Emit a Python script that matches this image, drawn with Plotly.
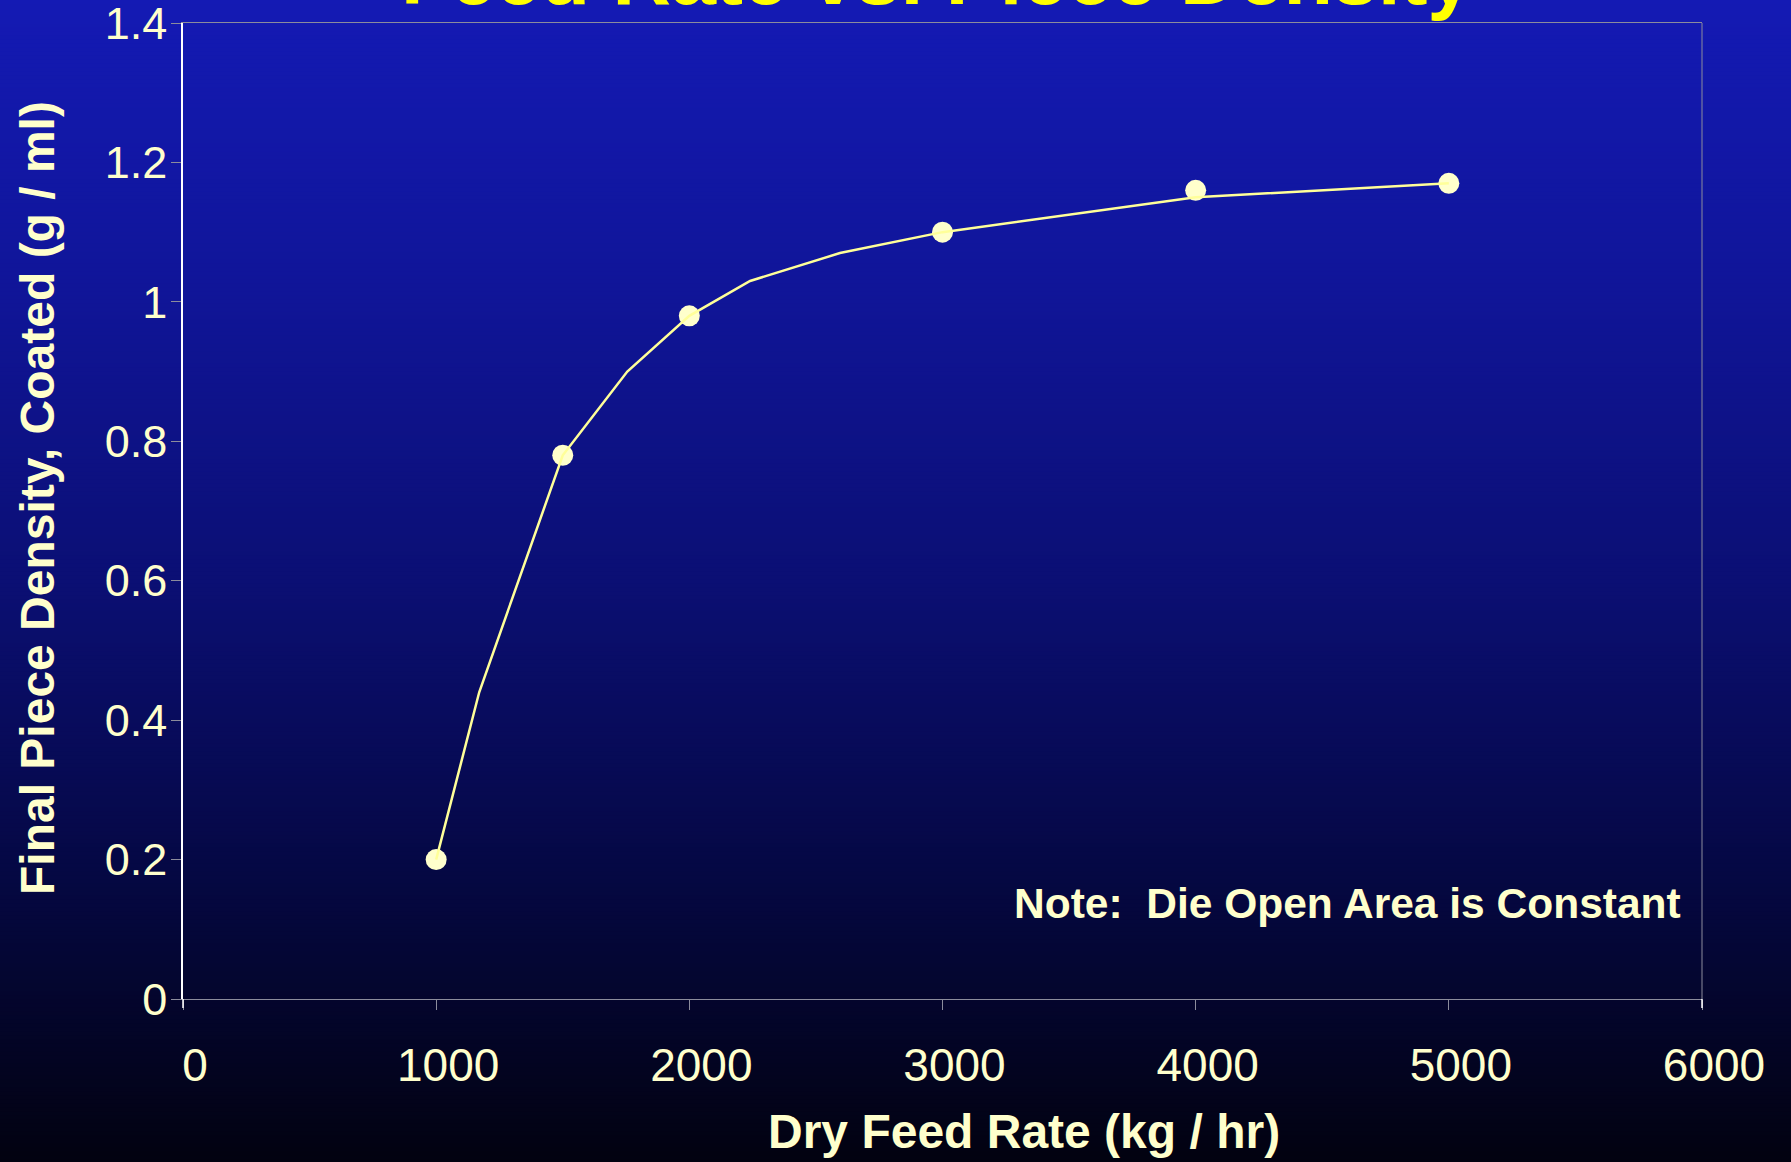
import plotly.graph_objects as go

# ---- data ----
feed_rate = [1000, 1500, 2000, 3000, 4000, 5000]
density = [0.20, 0.78, 0.98, 1.10, 1.16, 1.17]

curve_x = [1000, 1170, 1500, 1755, 2000, 2240, 2595, 3000, 4000, 5000]
curve_y = [0.20, 0.44, 0.78, 0.90, 0.98, 1.03, 1.07, 1.10, 1.15, 1.17]

x_ticks = [0, 1000, 2000, 3000, 4000, 5000, 6000]
y_ticks = [0, 0.2, 0.4, 0.6, 0.8, 1, 1.2, 1.4]
y_tick_text = ["0", "0.2", "0.4", "0.6", "0.8", "1", "1.2", "1.4"]

title_text = "Feed Rate vs. Piece Density"
x_title = "Dry Feed Rate (kg / hr)"
y_title = "Final Piece Density, Coated (g / ml)"
note_text = "Note:\u00a0 Die Open Area is Constant"

# ---- layout geometry ----
W, H = 1791, 1162
ML, MR, MT, MB = 183, 89, 23, 163
PW, PH = W - ML - MR, H - MT - MB

CREAM = "#FFFFCC"
FONT = "Liberation Sans, Arial, sans-serif"

# background gradient stops (pixel y, rgb)
stops = [(0, (20, 26, 180)), (290, (16, 21, 152)), (580, (11, 15, 116)),
         (870, (5, 8, 68)), (1162, (2, 2, 16))]


def grad(py):
    for (y0, c0), (y1, c1) in zip(stops[:-1], stops[1:]):
        if y0 <= py <= y1:
            t = (py - y0) / (y1 - y0)
            return tuple(round(a + (b - a) * t) for a, b in zip(c0, c1))
    return stops[-1][1]


def py2paper(py):
    return (H - MB - py) / PH


def px2paper(px):
    return (px - ML) / PW


shapes = []
band = 4
for py in range(0, H, band):
    r, g, b = grad(py + band / 2)
    shapes.append(dict(type="rect", xref="paper", yref="paper",
                       x0=px2paper(-2), x1=px2paper(W + 2),
                       y0=py2paper(py + band + 0.5), y1=py2paper(py - 0.5),
                       fillcolor=f"rgb({r},{g},{b})", line=dict(width=0),
                       layer="below"))

# right border (grey) and small white extras
shapes.append(dict(type="line", xref="paper", yref="paper", x0=1, x1=1, y0=0, y1=1,
                   line=dict(color="#8c8c9c", width=1)))
shapes.append(dict(type="line", xref="paper", yref="paper", x0=0, x1=0,
                   y0=py2paper(H - MB + 9), y1=0, line=dict(color="white", width=1.5)))
shapes.append(dict(type="line", xref="paper", yref="paper", x0=1, x1=1,
                   y0=py2paper(H - MB + 9), y1=0, line=dict(color="white", width=1.5)))

fig = go.Figure()

fig.add_trace(go.Scatter(
    x=feed_rate, y=density, mode="markers",
    marker=dict(size=21, color=CREAM, line=dict(width=0)),
    showlegend=False, cliponaxis=False))

fig.add_trace(go.Scatter(
    x=curve_x, y=curve_y, mode="lines",
    line=dict(color="#FFFF99", width=2.5),
    showlegend=False, cliponaxis=False))

annotations = [
    dict(text=f"<b>{title_text}</b>", xref="paper", yref="paper",
         x=px2paper(937), y=1.0, xanchor="center", yanchor="bottom",
         showarrow=False, font=dict(family=FONT, size=81, color="#FFFF00")),
    dict(text=f"<b>{x_title}</b>", xref="paper", yref="paper",
         x=px2paper(1024), y=py2paper(1131), xanchor="center", yanchor="middle",
         showarrow=False, font=dict(family=FONT, size=48, color=CREAM)),
    dict(text=f"<b>{y_title}</b>", xref="paper", yref="paper", textangle=-90,
         x=px2paper(37), y=py2paper(498), xanchor="center", yanchor="middle",
         showarrow=False, font=dict(family=FONT, size=48, color=CREAM)),
    dict(text=f"<b>{note_text}</b>", xref="paper", yref="paper",
         x=px2paper(1683), y=py2paper(903), xanchor="right", yanchor="middle",
         showarrow=False, font=dict(family=FONT, size=42.5, color=CREAM)),
]

fig.update_layout(
    width=W, height=H,
    margin=dict(l=ML, r=MR, t=MT, b=MB, pad=0, autoexpand=False),
    paper_bgcolor="#02020f",
    plot_bgcolor="rgba(0,0,0,0)",
    shapes=shapes,
    annotations=annotations,
    font=dict(family=FONT, color=CREAM),
    xaxis=dict(range=[0, 6000], tickvals=x_ticks, ticktext=[str(v) for v in x_ticks],
               showgrid=False, zeroline=False, showline=True, linecolor="#8c8c9c",
               linewidth=1, mirror=True, ticks="outside", ticklen=10,
               tickcolor="#8c8c9c", tickwidth=1, ticklabelshift=12,
               ticklabelstandoff=16, ticklabeloverflow="allow", automargin=False,
               tickfont=dict(family=FONT, size=46, color=CREAM)),
    yaxis=dict(range=[0, 1.4], tickvals=y_ticks, ticktext=y_tick_text,
               showgrid=False, zeroline=False, showline=True, linecolor="white",
               linewidth=1.5, ticks="outside", ticklen=10, tickcolor="#8c8c9c",
               tickwidth=1, ticklabelstandoff=-5, ticklabeloverflow="allow",
               automargin=False,
               tickfont=dict(family=FONT, size=45, color=CREAM)),
)

fig.write_html("out.html")
